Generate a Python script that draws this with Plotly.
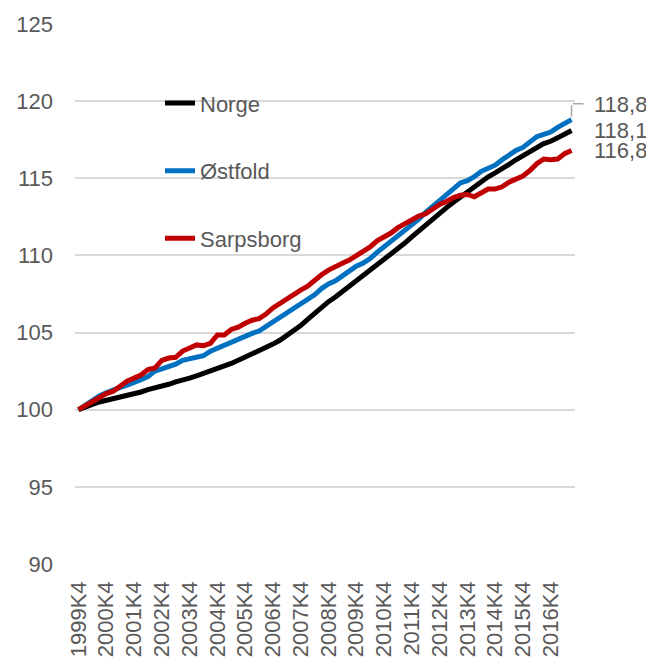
import plotly.graph_objects as go

years = list(range(1999, 2018))
quarters = []
for y in years:
    for q in (1, 2, 3, 4):
        quarters.append(f"{y}K{q}")
categories = quarters[quarters.index("1999K4"):quarters.index("2017K3") + 1]

norge = [100.0, 100.2, 100.35, 100.5, 100.6, 100.7, 100.8, 100.95, 101.05, 101.15,
         101.3, 101.4, 101.55, 101.65, 101.8, 101.9, 102.05, 102.2, 102.35, 102.5,
         102.7, 102.85, 103.0, 103.2, 103.4, 103.6, 103.8, 104.0, 104.25, 104.5,
         104.8, 105.1, 105.45, 105.85, 106.25, 106.65, 107.0, 107.3, 107.65, 108.0,
         108.35, 108.65, 109.0, 109.3, 109.65, 110.0, 110.4, 110.8, 111.2, 111.6,
         112.0, 112.4, 112.75, 113.1, 113.45, 113.8, 114.15, 114.5, 114.8, 115.1,
         115.35, 115.6, 115.9, 116.2, 116.45, 116.75, 117.0, 117.25, 117.4, 117.6,
         117.85, 118.1]

ostfold = [100.0, 100.3, 100.6, 100.9, 101.1, 101.3, 101.45, 101.6, 101.75, 101.95,
           102.15, 102.5, 102.65, 102.8, 102.95, 103.2, 103.3, 103.35, 103.5, 103.8,
           104.0, 104.15, 104.35, 104.6, 104.8, 104.95, 105.1, 105.4, 105.7, 106.0,
           106.3, 106.6, 106.9, 107.15, 107.45, 107.85, 108.15, 108.35, 108.65, 109.0,
           109.3, 109.5, 109.8, 110.2, 110.55, 110.85, 111.3, 111.65, 112.0, 112.35,
           112.8, 113.2, 113.55, 113.9, 114.35, 114.7, 114.85, 115.1, 115.45, 115.65,
           115.85, 116.2, 116.5, 116.8, 117.0, 117.4, 117.7, 117.85, 118.0, 118.3,
           118.55, 118.8]

sarpsborg = [100.0, 100.25, 100.5, 100.8, 101.05, 101.2, 101.5, 101.85, 102.05, 102.25,
             102.6, 102.7, 103.2, 103.35, 103.4, 103.8, 104.0, 104.2, 104.15, 104.3,
             104.85, 104.85, 105.2, 105.35, 105.6, 105.8, 105.9, 106.2, 106.6, 106.9,
             107.2, 107.5, 107.75, 108.0, 108.4, 108.75, 109.05, 109.3, 109.5, 109.7,
             110.0, 110.3, 110.55, 110.95, 111.2, 111.45, 111.8, 112.05, 112.3, 112.55,
             112.7, 113.05, 113.3, 113.5, 113.75, 113.9, 113.95, 113.8, 114.05, 114.3,
             114.3, 114.45, 114.75, 114.95, 115.15, 115.5, 115.95, 116.25, 116.2, 116.25,
             116.6, 116.8]

series_names = ["Norge", "Østfold", "Sarpsborg"]
series_values = [norge, ostfold, sarpsborg]
series_colors = ["#000000", "#0070C0", "#C00000"]
end_labels = ["118,1", "118,8", "116,8"]
end_shift = [0, 15, 0]

tick_labels = [c for c in categories if c.endswith("K4")]
y_ticks = [90, 95, 100, 105, 110, 115, 120, 125]

FONT = "Arial, 'Liberation Sans', sans-serif"
GREY = "#595959"
LEADER = "#A6A6A6"

fig = go.Figure()
for i, (name, vals, col) in enumerate(zip(series_names, series_values, series_colors)):
    fig.add_trace(go.Scatter(
        x=categories, y=vals, name=name, mode="lines",
        line=dict(color=col, width=5), legendgroup=name,
    ))
    fig.add_annotation(
        x=categories[-1], y=vals[-1], text=end_labels[i], showarrow=False,
        xanchor="left", yanchor="middle", xshift=20, yshift=end_shift[i],
        font=dict(family=FONT, size=22, color=GREY),
    )

# elbow leader line for the Østfold end label (two arrow-less annotation strokes)
fig.add_annotation(
    x=categories[-1], y=ostfold[-1], text="", showarrow=True,
    ax=0, ay=-16, axref="pixel", ayref="pixel", arrowhead=0, standoff=3,
    arrowwidth=1.5, arrowcolor=LEADER,
)
fig.add_annotation(
    x=categories[-1], y=ostfold[-1], text="", showarrow=True, yshift=16,
    xshift=12, ax=-12, ay=0, arrowhead=0, standoff=0,
    arrowwidth=1.5, arrowcolor=LEADER,
)

fig.update_layout(
    width=646, height=649,
    margin=dict(l=67, r=79, t=16, b=93, autoexpand=False),
    paper_bgcolor="white", plot_bgcolor="white",
    font=dict(family=FONT, size=22, color=GREY),
    showlegend=True,
    legend=dict(
        x=0.17, y=0.892, xanchor="left", yanchor="top",
        font=dict(family=FONT, size=22, color=GREY),
        tracegroupgap=36, bgcolor="rgba(0,0,0,0)",
    ),
    xaxis=dict(
        type="category", range=[-0.5, len(categories) - 0.5],
        tickmode="array", tickvals=tick_labels, ticktext=tick_labels,
        tickangle=-90, showgrid=False, showline=False, zeroline=False,
        ticks="", ticklabelstandoff=12, automargin=False,
        tickfont=dict(family=FONT, size=22, color=GREY),
    ),
    yaxis=dict(
        range=[90, 125], tickvals=y_ticks, showgrid=True,
        gridcolor="#D9D9D9", gridwidth=1.5, zeroline=False, showline=False,
        ticks="", ticklabelstandoff=21, automargin=False,
        tickfont=dict(family=FONT, size=22, color=GREY),
    ),
)

fig.write_html("out.html")
